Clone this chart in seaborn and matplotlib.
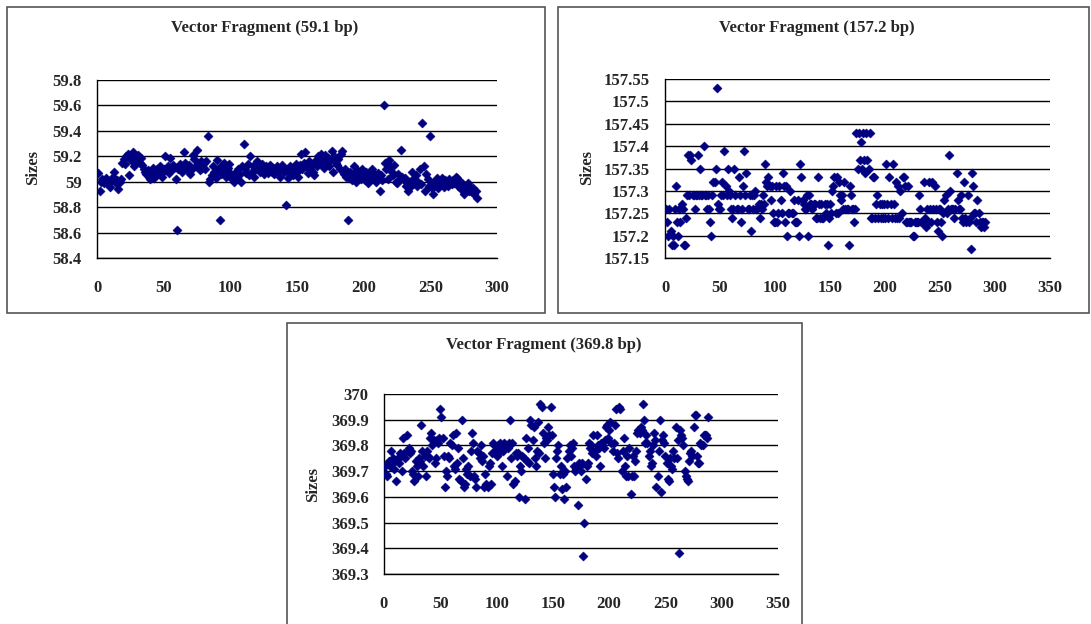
import numpy as np
import pandas as pd
import matplotlib
matplotlib.use("Agg")
import matplotlib.pyplot as plt
import matplotlib.patches as patches
import seaborn as sns
from matplotlib.ticker import FuncFormatter

# 每个片段的测量值（按样本序号 1..N）
sizes_59 = [
    59.07, 58.93, 59.00, 59.02, 58.99, 59.01, 59.03, 58.98, 59.00, 58.96, 59.02, 59.04, 59.08, 58.99, 59.01, 58.94, 59.00, 59.02, 59.15, 59.18,
    59.14, 59.20, 59.22, 59.05, 59.18, 59.16, 59.23, 59.12, 59.20, 59.17, 59.21, 59.15, 59.19, 59.13, 59.10, 59.08, 59.06, 59.09, 59.04, 59.02,
    59.07, 59.11, 59.03, 59.05, 59.10, 59.08, 59.12, 59.06, 59.04, 59.10, 59.20, 59.09, 59.12, 59.07, 59.19, 59.10, 59.13, 59.11, 59.02, 58.62,
    59.10, 59.14, 59.12, 59.08, 59.23, 59.15, 59.11, 59.09, 59.13, 59.06, 59.10, 59.21, 59.18, 59.12, 59.25, 59.14, 59.09, 59.16, 59.11, 59.15,
    59.10, 59.16, 59.36, 59.00, 59.02, 59.05, 59.12, 59.08, 59.03, 59.17, 59.10, 58.70, 59.06, 59.13, 59.15, 59.09, 59.04, 59.11, 59.14, 59.07,
    59.02, 59.05, 59.00, 59.08, 59.03, 59.10, 59.06, 59.00, 59.12, 59.30, 59.10, 59.07, 59.14, 59.05, 59.20, 59.08, 59.12, 59.04, 59.10, 59.16,
    59.13, 59.08, 59.11, 59.14, 59.06, 59.10, 59.12, 59.07, 59.09, 59.13, 59.08, 59.11, 59.06, 59.10, 59.12, 59.09, 59.04, 59.11, 59.13, 59.08,
    59.10, 58.82, 59.03, 59.07, 59.12, 59.09, 59.05, 59.11, 59.14, 59.08, 59.04, 59.13, 59.22, 59.10, 59.15, 59.23, 59.12, 59.07, 59.16, 59.10,
    59.13, 59.08, 59.05, 59.17, 59.12, 59.20, 59.15, 59.22, 59.18, 59.11, 59.21, 59.14, 59.19, 59.12, 59.17, 59.24, 59.08, 59.20, 59.15, 59.13,
    59.18, 59.10, 59.22, 59.24, 59.06, 59.10, 59.04, 58.70, 59.03, 59.08, 59.01, 59.06, 59.12, 59.00, 59.09, 59.04, 59.07, 59.02, 59.10, 59.05,
    59.01, 59.08, 58.99, 59.05, 59.02, 59.10, 59.04, 59.06, 59.00, 59.03, 59.07, 58.93, 59.05, 59.01, 59.60, 59.15, 59.10, 59.02, 59.17, 59.12,
    59.08, 59.05, 59.13, 59.00, 58.99, 59.06, 59.02, 59.25, 59.04, 59.01, 59.03, 58.97, 58.93, 59.00, 58.96, 59.08, 59.02, 58.99, 59.05, 58.97,
    59.00, 59.10, 58.98, 59.46, 59.12, 58.93, 59.06, 59.02, 58.97, 59.36, 58.95, 58.90, 59.00, 58.97, 59.03, 58.95, 59.00, 58.98, 59.03, 58.96,
    59.01, 58.99, 58.97, 59.02, 59.00, 58.98, 59.01, 58.99, 59.04, 59.03, 58.97, 59.00, 58.94, 58.99, 58.90, 58.97, 58.95, 58.99, 58.93, 58.96,
    58.92, 58.95, 58.90, 58.93, 58.87,
]

sizes_157 = [
    157.26, 157.23, 157.20, 157.26, 157.21, 157.18, 157.20, 157.18, 157.26, 157.31, 157.23, 157.20, 157.26, 157.23, 157.27, 157.26, 157.18, 157.18, 157.24, 157.29,
    157.38, 157.29, 157.38, 157.37, 157.29, 157.29, 157.26, 157.29, 157.29, 157.38, 157.29, 157.35, 157.29, 157.29, 157.40, 157.29, 157.29, 157.26, 157.29, 157.26,
    157.23, 157.20, 157.29, 157.32, 157.32, 157.35, 157.53, 157.27, 157.26, 157.26, 157.29, 157.32, 157.29, 157.39, 157.31, 157.29, 157.35, 157.30, 157.29, 157.26,
    157.24, 157.26, 157.35, 157.29, 157.26, 157.26, 157.33, 157.29, 157.23, 157.26, 157.31, 157.39, 157.29, 157.34, 157.26, 157.26, 157.29, 157.21, 157.29, 157.26,
    157.29, 157.30, 157.26, 157.26, 157.27, 157.24, 157.27, 157.26, 157.29, 157.27, 157.36, 157.32, 157.31, 157.33, 157.31, 157.28, 157.31, 157.25, 157.23, 157.23,
    157.31, 157.23, 157.25, 157.31, 157.28, 157.25, 157.34, 157.31, 157.23, 157.31, 157.20, 157.25, 157.25, 157.30, 157.25, 157.25, 157.28, 157.23, 157.23, 157.23,
    157.28, 157.20, 157.36, 157.33, 157.28, 157.27, 157.26, 157.26, 157.29, 157.20, 157.29, 157.27, 157.27, 157.26, 157.27, 157.27, 157.24, 157.24, 157.33, 157.27,
    157.24, 157.27, 157.24, 157.24, 157.27, 157.25, 157.27, 157.18, 157.24, 157.27, 157.25, 157.30, 157.31, 157.33, 157.25, 157.33, 157.25, 157.32, 157.29, 157.28,
    157.29, 157.26, 157.32, 157.26, 157.26, 157.26, 157.18, 157.31, 157.29, 157.26, 157.26, 157.23, 157.26, 157.43, 157.35, 157.43, 157.37, 157.41, 157.35, 157.43,
    157.37, 157.34, 157.43, 157.37, 157.35, 157.43, 157.24, 157.24, 157.33, 157.33, 157.24, 157.27, 157.29, 157.24, 157.27, 157.24, 157.27, 157.24, 157.27, 157.24,
    157.36, 157.27, 157.24, 157.33, 157.27, 157.24, 157.36, 157.27, 157.24, 157.32, 157.24, 157.31, 157.24, 157.30, 157.25, 157.33, 157.33, 157.31, 157.23, 157.23,
    157.31, 157.23, 157.23, 157.23, 157.20, 157.20, 157.23, 157.23, 157.23, 157.23, 157.29, 157.26, 157.23, 157.23, 157.32, 157.24, 157.22, 157.26, 157.23, 157.32,
    157.26, 157.23, 157.32, 157.26, 157.31, 157.26, 157.23, 157.21, 157.26, 157.26, 157.23, 157.20, 157.25, 157.28, 157.29, 157.25, 157.26, 157.38, 157.30, 157.26,
    157.26, 157.26, 157.24, 157.26, 157.34, 157.28, 157.26, 157.26, 157.29, 157.24, 157.23, 157.32, 157.24, 157.23, 157.29, 157.23, 157.24, 157.17, 157.34, 157.31,
    157.25, 157.25, 157.23, 157.28, 157.25, 157.23, 157.22, 157.23, 157.23, 157.22, 157.23,
]

sizes_369 = [
    369.72, 369.69, 369.68, 369.74, 369.72, 369.78, 369.73, 369.75, 369.71, 369.74, 369.66, 369.75, 369.73, 369.77, 369.76, 369.70, 369.83, 369.77, 369.75, 369.84,
    369.78, 369.79, 369.77, 369.78, 369.70, 369.69, 369.66, 369.74, 369.72, 369.68, 369.75, 369.74, 369.88, 369.78, 369.72, 369.76, 369.68, 369.78, 369.76, 369.75,
    369.83, 369.85, 369.80, 369.82, 369.73, 369.75, 369.82, 369.81, 369.83, 369.94, 369.91, 369.83, 369.76, 369.64, 369.70, 369.68, 369.76, 369.75, 369.81, 369.80,
    369.84, 369.72, 369.71, 369.85, 369.73, 369.79, 369.67, 369.66, 369.90, 369.75, 369.64, 369.65, 369.71, 369.69, 369.72, 369.68, 369.78, 369.85, 369.81, 369.68,
    369.67, 369.64, 369.78, 369.77, 369.75, 369.80, 369.74, 369.76, 369.64, 369.69, 369.65, 369.64, 369.72, 369.73, 369.65, 369.77, 369.81, 369.80, 369.78, 369.76,
    369.80, 369.77, 369.81, 369.79, 369.72, 369.78, 369.81, 369.80, 369.68, 369.79, 369.81, 369.90, 369.75, 369.81, 369.65, 369.66, 369.77, 369.76, 369.77, 369.60,
    369.72, 369.70, 369.76, 369.75, 369.59, 369.83, 369.74, 369.79, 369.73, 369.90, 369.88, 369.82, 369.87, 369.75, 369.72, 369.78, 369.89, 369.77, 369.96, 369.95,
    369.85, 369.81, 369.75, 369.83, 369.82, 369.87, 369.84, 369.95, 369.84, 369.69, 369.64, 369.60, 369.75, 369.78, 369.80, 369.69, 369.72, 369.63, 369.69, 369.59,
    369.70, 369.64, 369.75, 369.78, 369.80, 369.76, 369.79, 369.81, 369.72, 369.70, 369.71, 369.57, 369.73, 369.72, 369.70, 369.73, 369.37, 369.50, 369.67, 369.72,
    369.73, 369.81, 369.79, 369.80, 369.77, 369.84, 369.78, 369.76, 369.84, 369.80, 369.79, 369.72, 369.81, 369.80, 369.79, 369.82, 369.87, 369.88, 369.83, 369.86,
    369.89, 369.81, 369.78, 369.81, 369.88, 369.94, 369.77, 369.75, 369.95, 369.94, 369.70, 369.78, 369.83, 369.72, 369.68, 369.76, 369.68, 369.79, 369.61, 369.68,
    369.76, 369.68, 369.74, 369.78, 369.85, 369.86, 369.85, 369.87, 369.86, 369.96, 369.90, 369.81, 369.84, 369.81, 369.76, 369.78, 369.72, 369.73, 369.80, 369.85,
    369.82, 369.64, 369.68, 369.78, 369.90, 369.62, 369.82, 369.84, 369.81, 369.76, 369.73, 369.67, 369.66, 369.75, 369.72, 369.71, 369.78, 369.75, 369.87, 369.75,
    369.82, 369.38, 369.86, 369.84, 369.83, 369.80, 369.70, 369.68, 369.67, 369.66, 369.74, 369.77, 369.78, 369.76, 369.87, 369.92, 369.92, 369.76, 369.73, 369.73,
    369.81, 369.80, 369.80, 369.84, 369.84, 369.84, 369.83, 369.91,
]

titles = ["Vector Fragment (59.1 bp)", "Vector Fragment (157.2 bp)", "Vector Fragment (369.8 bp)"]
y_ranges = [(58.4, 59.8, 0.2), (157.15, 157.55, 0.05), (369.3, 370.0, 0.1)]
x_ranges = [(0, 300), (0, 350), (0, 350)]

W, H = 1091, 624
sns.set_style("white")
plt.rcParams['font.family'] = ['Liberation Serif', 'DejaVu Serif']

fig = plt.figure(figsize=(W / 100, H / 100), dpi=100)

def px_box(l, t, r, b):
    # 像素坐标 -> figure 坐标
    return [l / W, 1 - b / H, (r - l) / W, (b - t) / H]

# 外框
for l, t, r, b in [(7, 7, 545, 313), (558, 7, 1089, 313), (287, 323, 802, 630)]:
    fig.patches.append(patches.Rectangle((l / W, 1 - b / H), (r - l) / W, (b - t) / H,
                                         transform=fig.transFigure, fill=False,
                                         edgecolor='#555555', linewidth=1.2))

axes_px = [(97, 80, 497, 258), (665, 79, 1050, 258), (384, 394, 778, 574)]
title_px = [(265, 28), (817, 28), (544, 345)]
ylabel_px = [(33, 168), (587, 168), (313, 485)]

def fmt(v, pos):
    s = f"{v:.2f}".rstrip('0').rstrip('.')
    return s

for i, data in enumerate([sizes_59, sizes_157, sizes_369]):
    df = pd.DataFrame({"sample": np.arange(1, len(data) + 1), "size": data})
    ax = fig.add_axes(px_box(*axes_px[i]))
    sns.scatterplot(data=df, x="sample", y="size", ax=ax, marker='D', s=22,
                    color='#000080', edgecolor='#000080', linewidth=0.3, zorder=3)
    y0, y1, step = y_ranges[i]
    ax.set_ylim(y0, y1)
    ax.set_yticks(np.arange(y0, y1 + step / 2, step))
    ax.yaxis.set_major_formatter(FuncFormatter(fmt))
    ax.set_xlim(*x_ranges[i])
    ax.set_xticks(np.arange(x_ranges[i][0], x_ranges[i][1] + 1, 50))
    ax.grid(axis='y', color='black', linewidth=1)
    ax.grid(axis='x', visible=False)
    ax.set_axisbelow(True)
    for side in ['top', 'right']:
        ax.spines[side].set_visible(False)
    for side in ['left', 'bottom']:
        ax.spines[side].set_color('black')
        ax.spines[side].set_linewidth(1)
    ax.tick_params(axis='x', direction='in', length=4, width=1, color='black', pad=16,
                   labelsize=12)
    ax.tick_params(axis='y', length=0, pad=11, labelsize=12)
    for lab in ax.get_xticklabels() + ax.get_yticklabels():
        lab.set_fontweight('bold')
    ax.set_xlabel("")
    ax.set_ylabel("")
    fig.text(title_px[i][0] / W, 1 - title_px[i][1] / H, titles[i], ha='center', va='center',
             fontsize=12, fontweight='bold')
    fig.text(ylabel_px[i][0] / W, 1 - ylabel_px[i][1] / H, "Sizes", ha='center', va='center',
             rotation=90, fontsize=12, fontweight='bold')

fig.savefig("out.png", dpi=100)
plt.close(fig)
